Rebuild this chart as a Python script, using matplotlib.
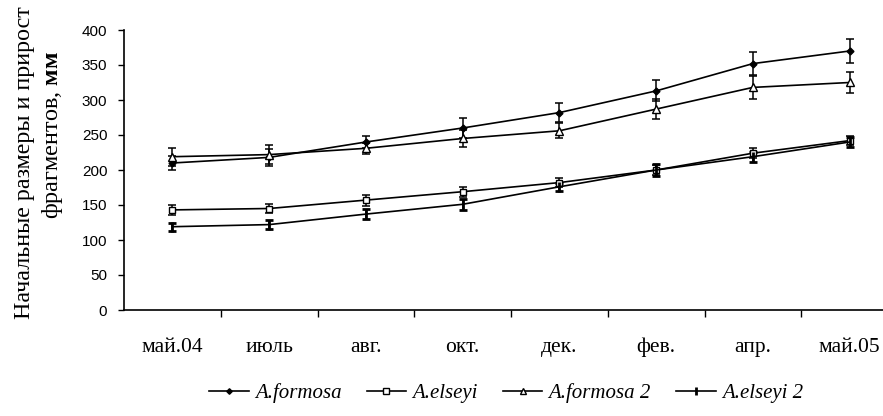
import matplotlib
matplotlib.use("Agg")
import matplotlib.pyplot as plt
from matplotlib.lines import Line2D
import numpy as np

categories = ["май.04", "июль", "авг.", "окт.", "дек.", "фев.", "апр.", "май.05"]
formosa = [210, 218, 240, 260, 282, 313, 352, 370]
formosa_err = [10, 12, 8, 14, 13, 15, 17, 17]
elseyi = [143, 145, 157, 169, 182, 200, 224, 242]
elseyi_err = [7, 7, 8, 7, 6, 7, 7, 7]
formosa2 = [219, 222, 231, 245, 256, 287, 318, 325]
formosa2_err = [13, 13, 8, 12, 11, 14, 16, 15]
elseyi2 = [119, 122, 137, 151, 176, 200, 219, 240]
elseyi2_err = [6, 6, 7, 8, 6, 8, 7, 7]
yticks = [0, 50, 100, 150, 200, 250, 300, 350, 400]

serif = "Liberation Serif"
plt.rcParams["mathtext.fontset"] = "custom"
plt.rcParams["mathtext.rm"] = "Liberation Serif"
plt.rcParams["mathtext.bf"] = "Liberation Serif:bold"

fig = plt.figure(figsize=(8.83, 4.16), dpi=100)
ax = fig.add_axes([124/883, 106/416, 774/883, 280/416])
x = np.arange(len(categories))

styles = [
    (formosa, formosa_err, "A.formosa", dict(marker="D", ms=3.5, mfc="black", mec="black")),
    (elseyi, elseyi_err, "A.elseyi", dict(marker="s", ms=5, mfc="white", mec="black")),
    (formosa2, formosa2_err, "A.formosa 2", dict(marker="^", ms=6, mfc="white", mec="black")),
    (elseyi2, elseyi2_err, "A.elseyi 2", dict(marker="|", ms=7, mew=2, mfc="black", mec="black")),
]
handles = []
for vals, err, lab, mk in styles:
    ax.errorbar(x, vals, yerr=err, color="black", lw=1.2, capsize=3, elinewidth=1.1,
                capthick=1.1, **mk)
    hk = dict(mk)
    hk["ms"] = mk["ms"] * 0.8
    handles.append(Line2D([], [], color="black", lw=1.2, label=lab, **hk))

ax.set_xlim(-0.5, 7.5)
ax.set_ylim(0, 400)
ax.set_yticks(yticks)
ax.set_xticks(x)
ax.set_xticklabels(categories, fontfamily=serif, fontsize=15.5)
ax.set_xticks(np.arange(0.5, 7.5, 1), minor=True)
ax.tick_params(axis="x", which="major", length=0, pad=20)
ax.tick_params(axis="x", which="minor", length=5, direction="out", width=1)
ax.tick_params(axis="y", length=4, direction="out", width=1, labelsize=11, pad=8)
for lab in ax.get_yticklabels():
    lab.set_fontfamily("Liberation Sans")
for s in ["top", "right"]:
    ax.spines[s].set_visible(False)
ax.spines["left"].set_linewidth(1.2)
ax.spines["bottom"].set_linewidth(1.2)

fig.text(0.028, 0.61, "Начальные размеры и прирост", rotation=90, ha="center", va="center",
         fontfamily=serif, fontsize=17.3)
fig.text(0.059, 0.675, "фрагментов, $\\mathbf{мм}$", rotation=90, ha="center", va="center",
         fontfamily=serif, fontsize=17.5)

fig.legend(handles=handles, loc="center", bbox_to_anchor=(506/883, 1 - 393/416), ncol=4,
           frameon=False, prop={"family": serif, "style": "italic", "size": 15},
           handlelength=1.9, columnspacing=1.2, handletextpad=0.3)

fig.savefig("out.png", dpi=100)
